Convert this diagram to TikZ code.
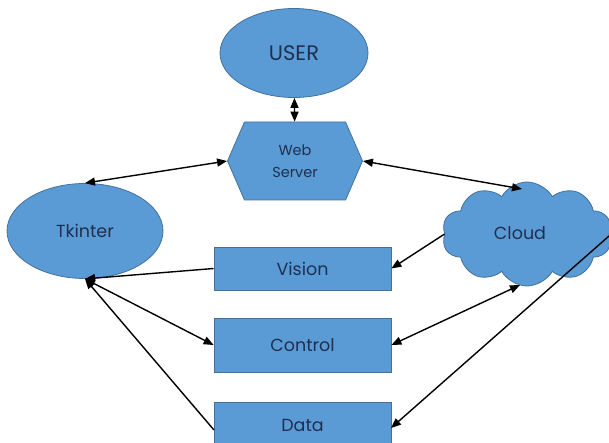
\documentclass[tikz,border=0pt]{standalone}
\usepackage{fontspec}
\setmainfont{Poppins}
\usetikzlibrary{shapes.geometric,shapes.symbols,arrows.meta}

\definecolor{partfill}{HTML}{5B9BD5}
\definecolor{partline}{HTML}{41719C}
\definecolor{parttext}{HTML}{1F2F4F}

\tikzset{
  part/.style={fill=partfill, draw=partline, line width=0.8pt, text=parttext, inner sep=0pt},
  oval/.style={part, ellipse},
  block/.style={part, rectangle, minimum width=177pt, font=\fontsize{17.5}{20}\selectfont},
  link/.style={line width=1.4pt, {Triangle[length=10pt,width=8pt]}-{Triangle[length=10pt,width=8pt]}},
  onelink/.style={line width=1.4pt, -{Triangle[length=10pt,width=8pt]}}
}

\begin{document}
\begin{tikzpicture}[x=1pt, y=-1pt]
            \useasboundingbox (0,0) rectangle (609,443);

            \node[oval, minimum width=148pt, minimum height=89pt, font=\fontsize{21}{24}\selectfont] (user) at (294,53) {USER};
            \node[part, shape=signal, signal to=east and west, signal pointer angle=133,
                  minimum width=135pt, minimum height=78pt, align=center,
                  font=\fontsize{14.5}{22}\selectfont] (web) at (295,161) {Web\\Server};
            \node[oval, minimum width=156pt, minimum height=95pt, font=\fontsize{17.5}{20}\selectfont] (tk) at (85,231) {Tkinter};
            \node[part, shape=cloud, cloud puffs=10, cloud puff arc=120, aspect=1.65,
                  minimum width=170pt, minimum height=104pt] (cloud) at (527,234) {};
            \node[text=parttext, font=\fontsize{17.5}{20}\selectfont] (cloudtext) at (520,233) {Cloud};
            \node[block, minimum height=43pt] (vision) at (302.5,268.5) {Vision};
            \node[block, minimum height=54pt] (control) at (302.5,345) {Control};
            \node[block, minimum height=54pt] (data) at (302.5,429) {};
            \node[text=parttext, font=\fontsize{17.5}{20}\selectfont] (datatext) at (302.5,425) {Data};
            \coordinate (edge) at (609,236);

            \draw[link] (user) to (web);
            \draw[link] (web.west) to (tk.north);
            \draw[link] (web.east) to (522,189);
            \draw[onelink] (vision.west) to (tk.south);
            \draw[link] (tk.south) to (control.west);
            \draw[onelink] (214,430) to (tk.south);
            \draw[onelink] (cloud.west) to (vision.east);
            \draw[link] (control.east) to (520,285);
            \draw[onelink] (edge) to (391,428);
        \end{tikzpicture}
\end{document}
